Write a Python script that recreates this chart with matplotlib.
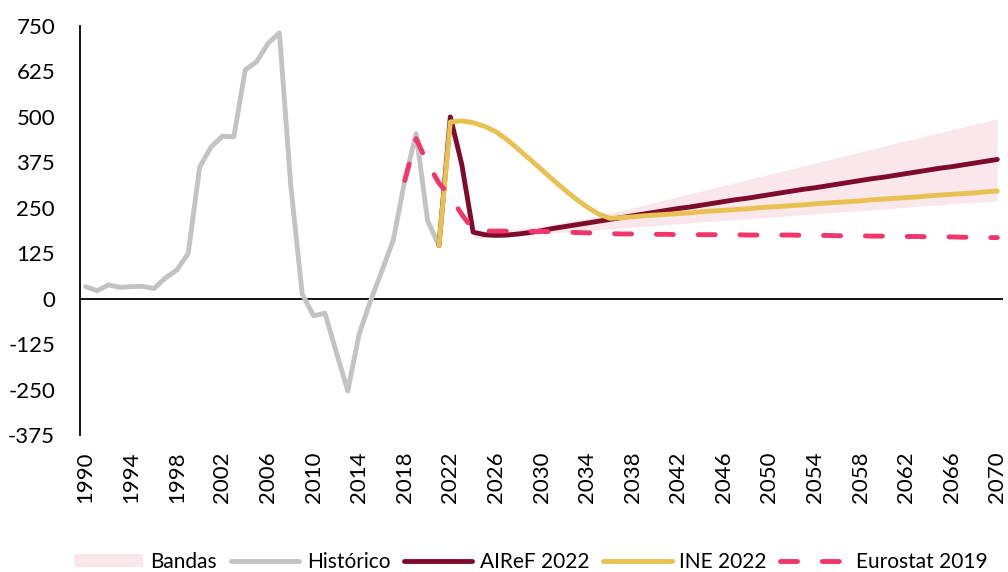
import matplotlib
matplotlib.use("Agg")
import matplotlib.pyplot as plt
from matplotlib.patches import Patch
from matplotlib.lines import Line2D

plt.rcParams['font.family'] = ['Lato', 'DejaVu Sans']

# ---------------- data ----------------
hist_years = list(range(1990, 2022))
historico = [33, 22, 38, 31, 33, 34, 28, 57, 79, 125, 362, 417, 447, 445, 629, 652,
             702, 731, 310, 13, -47, -40, -148, -254, -97, -6, 77, 162, 325, 454, 215, 146]

proj_years = list(range(2021, 2071))
airef_2022 = [146, 500, 370, 183, 176, 174, 175, 178, 182, 187,
              193, 198, 203, 208, 213, 218, 223, 228, 233, 238,
              243, 248, 252, 257, 262, 267, 272, 276, 281, 286,
              291, 296, 301, 305, 310, 315, 320, 325, 330, 334,
              339, 344, 349, 354, 359, 363, 368, 373, 378, 383]
ine_2022 = [146, 486, 489, 484, 474, 459, 437, 410, 383, 355,
            327, 300, 275, 252, 233, 221, 223, 225, 228, 230,
            232, 234, 236, 239, 241, 243, 245, 247, 250, 252,
            254, 256, 258, 261, 263, 265, 267, 269, 272, 274,
            276, 278, 280, 283, 285, 287, 289, 291, 294, 296]

euro_years = list(range(2018, 2071))
eurostat_2019 = [325, 440, 372, 318, 280, 232, 190, 186, 186, 186,
                 186, 185, 185, 184, 183, 182, 181, 180, 179, 178,
                 178, 177, 177, 177, 176, 176, 176, 176, 176, 176,
                 175, 175, 175, 175, 175, 174, 174, 174, 173, 173,
                 173, 172, 172, 172, 171, 171, 170, 170, 170, 169,
                 169, 168, 168]

band_years = list(range(2024, 2071))
band_low = [165, 167, 170, 172, 174, 176, 179, 181, 183, 186,
            188, 190, 192, 195, 197, 199, 201, 204, 206, 208,
            211, 213, 215, 217, 220, 222, 224, 226, 229, 231,
            233, 236, 238, 240, 242, 245, 247, 249, 251, 254,
            256, 258, 261, 263, 265, 267, 270]
band_high = [185, 186, 188, 190, 193, 196, 200, 205, 210, 216,
             222, 228, 235, 242, 250, 257, 265, 273, 281, 289,
             296, 304, 312, 319, 327, 335, 342, 350, 358, 365,
             373, 381, 388, 396, 404, 411, 419, 427, 434, 442,
             450, 457, 465, 472, 480, 487, 495]

x_ticks = list(range(1990, 2071, 4))
y_ticks = [-375, -250, -125, 0, 125, 250, 375, 500, 625, 750]

# ---------------- style ----------------
c_band = '#F9E7EC'
c_hist = '#C3C3C3'
c_airef = '#7E0A2C'
c_ine = '#E8C152'
c_euro = '#F2356B'
lw = 3.5

fig = plt.figure(figsize=(10.08, 5.72), dpi=100)
ax = fig.add_axes([80/1008, (572-435)/572, (1003-80)/1008, (435-26)/572])

ax.fill_between(band_years, band_low, band_high, color=c_band, lw=0, zorder=1)
ax.axhline(0, color='black', lw=1.3, zorder=1.5)
ax.plot(hist_years, historico, color=c_hist, lw=lw, solid_capstyle='round',
        solid_joinstyle='round', zorder=2)
ax.plot(proj_years, airef_2022, color=c_airef, lw=lw, solid_capstyle='round',
        solid_joinstyle='round', zorder=3)
ax.plot(proj_years, ine_2022, color=c_ine, lw=lw, solid_capstyle='round',
        solid_joinstyle='round', zorder=4)
ax.plot(euro_years, eurostat_2019, color=c_euro, lw=lw, dashes=(3.5, 5.1),
        dash_capstyle='round', zorder=5)

ax.set_xlim(1989.5, 2070.5)
ax.set_ylim(-375, 750)
ax.set_xticks(x_ticks)
ax.set_xticklabels([str(t) for t in x_ticks], rotation=90, fontsize=16)
ax.set_yticks(y_ticks)
ax.set_yticklabels([str(t) for t in y_ticks], fontsize=16)
ax.tick_params(axis='x', length=0, pad=12)
ax.tick_params(axis='y', length=0, pad=18)
for s in ['top', 'right', 'bottom']:
    ax.spines[s].set_visible(False)
ax.spines['left'].set_color('black')
ax.spines['left'].set_linewidth(1.3)

handles = [
    Patch(facecolor=c_band, edgecolor='none'),
    Line2D([], [], color=c_hist, lw=lw, solid_capstyle='round'),
    Line2D([], [], color=c_airef, lw=lw, solid_capstyle='round'),
    Line2D([], [], color=c_ine, lw=lw, solid_capstyle='round'),
    Line2D([], [], color=c_euro, lw=lw, dashes=(3.5, 5.1), dash_capstyle='round'),
]
labels = ['Bandas', 'Histórico', 'AIReF 2022', 'INE 2022', 'Eurostat 2019']
fig.legend(handles, labels, loc='center', bbox_to_anchor=(531/1008, 10/572),
           ncol=5, frameon=False, fontsize=15, handlelength=3.3,
           handletextpad=0.35, columnspacing=0.65, handleheight=0.6,
           borderaxespad=0, borderpad=0)

fig.savefig('out.png', dpi=100)
